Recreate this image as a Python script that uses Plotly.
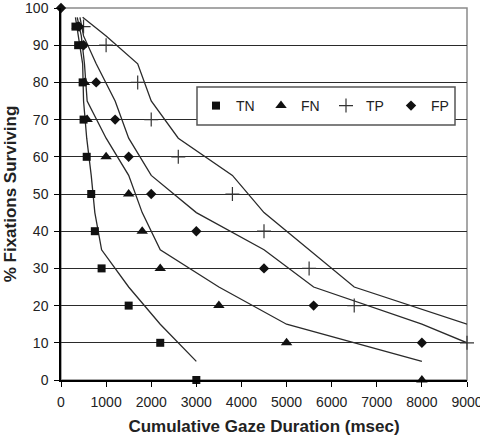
import plotly.graph_objects as go

# ---- data ----
tn_x = [320, 380, 480, 500, 570, 670, 750, 900, 1500, 2200, 3000]
tn_y = [95, 90, 80, 70, 60, 50, 40, 30, 20, 10, 0]
fn_x = [360, 450, 520, 580, 1000, 1500, 1800, 2200, 3500, 5000, 8000]
fn_y = [95, 90, 80, 70, 60, 50, 40, 30, 20, 10, 0]
tp_x = [500, 1000, 1700, 2000, 2600, 3800, 4500, 5500, 6500, 9000]
tp_y = [95, 90, 80, 70, 60, 50, 40, 30, 20, 10]
fp_x = [0, 400, 500, 780, 1200, 1500, 2000, 3000, 4500, 5600, 8000]
fp_y = [100, 95, 90, 80, 70, 60, 50, 40, 30, 20, 10]

# fitted curves
tn_fit_x = [320, 380, 480, 500, 570, 670, 750, 900, 1500, 2200, 3000]
tn_fit_y = [97.5, 92.5, 85, 75, 65, 55, 45, 35, 25, 15, 5]
fn_fit_x = [360, 450, 520, 580, 1000, 1500, 1800, 2200, 3500, 5000, 8000]
fn_fit_y = [97.5, 92.5, 85, 75, 65, 55, 45, 35, 25, 15, 5]
tp_fit_x = [480, 1000, 1700, 2000, 2600, 3800, 4500, 5500, 6500, 9000]
tp_fit_y = [97.5, 92.5, 85, 75, 65, 55, 45, 35, 25, 15]
fp_fit_x = [420, 500, 780, 1200, 1500, 2000, 3000, 4500, 5600, 8000, 9000]
fp_fit_y = [97.5, 92.5, 85, 75, 65, 55, 45, 35, 25, 15, 10]

x_title = "Cumulative Gaze Duration (msec)"
y_title = "% Fixations Surviving"

FONT = "Arial, Liberation Sans, sans-serif"
LINE_C = "#2a2a2a"
MARK_C = "#111111"

fig = go.Figure()

for fx, fy in [(tn_fit_x, tn_fit_y), (fn_fit_x, fn_fit_y),
               (tp_fit_x, tp_fit_y), (fp_fit_x, fp_fit_y)]:
    fig.add_trace(go.Scatter(x=fx, y=fy, mode="lines", showlegend=False,
                             line=dict(color=LINE_C, width=1.3),
                             hoverinfo="skip", cliponaxis=False))

fig.add_trace(go.Scatter(x=tn_x, y=tn_y, mode="markers", name="TN", cliponaxis=False,
                         marker=dict(symbol="square", size=8, color=MARK_C)))
fig.add_trace(go.Scatter(x=fn_x, y=fn_y, mode="markers", name="FN", cliponaxis=False,
                         marker=dict(symbol="triangle-up", size=10, color=MARK_C)))
fig.add_trace(go.Scatter(x=tp_x, y=tp_y, mode="markers", name="TP", cliponaxis=False,
                         marker=dict(symbol="cross-thin", size=10, color=MARK_C,
                                     line=dict(color="#333333", width=1.2))))
fig.add_trace(go.Scatter(x=fp_x, y=fp_y, mode="markers", name="FP", cliponaxis=False,
                         marker=dict(symbol="diamond", size=8, color=MARK_C)))

L, R, T, B = 61, 13, 8, 56
W, H = 480, 436
pw, ph = W - L - R, H - T - B

def px2paper_x(p):
    return (p - L) / pw

def py2paper_y(p):
    return (H - B - p) / ph

# plot area border (gray) and legend box
fig.add_shape(type="rect", xref="paper", yref="paper", x0=0, x1=1, y0=0, y1=1,
              line=dict(color="#8a8a8a", width=1.5), layer="below")
fig.add_shape(type="rect", xref="paper", yref="paper",
              x0=px2paper_x(197), x1=px2paper_x(455),
              y0=py2paper_y(125), y1=py2paper_y(87),
              line=dict(color="#555555", width=1.5), fillcolor="white", layer="above")

fig.update_layout(
    width=W, height=H,
    margin=dict(l=L, r=R, t=T, b=B, autoexpand=False),
    paper_bgcolor="white", plot_bgcolor="white",
    font=dict(family=FONT, color="#222222", size=14),
    showlegend=True,
    legend=dict(orientation="h", x=px2paper_x(196), xanchor="left",
                y=py2paper_y(106), yanchor="middle",
                bgcolor="rgba(0,0,0,0)", borderwidth=0,
                font=dict(size=14, color="#222222"),
                entrywidth=20, entrywidthmode="pixels"),
    xaxis=dict(range=[0, 9000], dtick=1000, tick0=0, showgrid=False, zeroline=False,
               showline=True, linecolor="black", linewidth=1.5,
               ticks="outside", ticklen=5, tickcolor="black", tickwidth=1.2,
               ticklabelstandoff=3, ticklabeloverflow="allow",
               title=dict(text=x_title, font=dict(size=17, weight="bold", color="#222222"),
                          standoff=14),
               automargin=False),
    yaxis=dict(range=[0, 100], dtick=10, tick0=0, showgrid=True,
               gridcolor="#2a2a2a", gridwidth=1.3, zeroline=False,
               showline=True, linecolor="black", linewidth=1.5,
               ticks="outside", ticklen=5, tickcolor="black", tickwidth=1.2,
               ticklabelstandoff=3, ticklabeloverflow="allow",
               title=dict(text=y_title, font=dict(size=17, weight="bold", color="#222222"),
                          standoff=4),
               automargin=False),
)

fig.write_html("out.html")
